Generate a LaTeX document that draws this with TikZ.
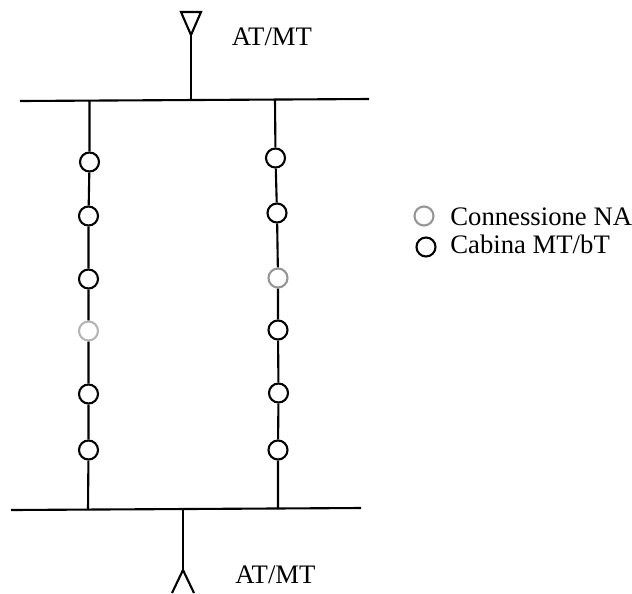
\documentclass[tikz,border=0pt]{standalone}
\usepackage{fontspec}
\usepackage{xcolor}
\setmainfont{Liberation Serif}
\definecolor{nagray}{RGB}{150,150,150}
\definecolor{nalight}{RGB}{180,180,180}
\tikzset{
  wire/.style={line width=1.2pt,black},
  cabina/.style={circle,draw=black,line width=1.2pt,fill=white,minimum size=0.38cm,inner sep=0pt},
  connessione/.style={cabina,draw=nagray},
  lbl/.style={anchor=base west,inner sep=0pt,font=\fontsize{15.2}{17}\selectfont},
}

\begin{document}
\begin{tikzpicture}[x=0.02cm,y=-0.02cm]
  \useasboundingbox (0,0) rectangle (632,593);
  % top busbar and its feeder
  \coordinate (topW) at (20,101);
  \coordinate (topE) at (369,99);
  \coordinate (topF) at (191,100);
  \coordinate (topA) at (191,35);
  \coordinate (topAl) at (181,12);
  \coordinate (topAr) at (201,12);
  \draw[wire] (topW) -- (topE);
  \draw[wire] (topF) -- (topA);
  \draw[wire] (topA) -- (topAl) -- (topAr) -- cycle;
  \node[lbl] (topT) at (231.5,45) {AT/MT};
  % bottom busbar and its feeder
  \coordinate (botW) at (11,510);
  \coordinate (botE) at (361,508);
  \coordinate (botF) at (183,509);
  \coordinate (botA) at (183,570);
  \coordinate (botAl) at (172,593);
  \coordinate (botAr) at (194,593);
  \draw[wire] (botW) -- (botE);
  \draw[wire] (botF) -- (botA);
  \draw[wire] (botAl) -- (botA) -- (botAr);
  \node[lbl] (botT) at (235,583) {AT/MT};
  % left line
  \coordinate (lT) at (89.5,100);
  \coordinate (lB) at (88,510);
  \node[cabina] (l1) at (89.5,162) {};
  \node[cabina] (l2) at (88.5,216) {};
  \node[cabina] (l3) at (88.5,279) {};
  \node[connessione,draw=nalight] (l4) at (88.5,331) {};
  \node[cabina] (l5) at (88.5,394) {};
  \node[cabina] (l6) at (88.5,450) {};
  \draw[wire] (lT) -- (l1) -- (l2) -- (l3) -- (l4) -- (l5) -- (l6) -- (lB);
  % right line
  \coordinate (rT) at (275,99.5);
  \coordinate (rB) at (278,508.5);
  \node[cabina] (r1) at (275.5,158) {};
  \node[cabina] (r2) at (277,213) {};
  \node[connessione] (r3) at (278,278) {};
  \node[cabina] (r4) at (278,330) {};
  \node[cabina] (r5) at (278.5,393) {};
  \node[cabina] (r6) at (278,450) {};
  \draw[wire] (rT) -- (r1) -- (r2) -- (r3) -- (r4) -- (r5) -- (r6) -- (rB);
  % legend
  \node[connessione] (legN) at (424,216) {};
  \node[cabina] (legC) at (426,247) {};
  \node[lbl] (legNt) at (450,225) {Connessione NA};
  \node[lbl] (legCt) at (450,253) {Cabina MT/bT};
\end{tikzpicture}
\end{document}
